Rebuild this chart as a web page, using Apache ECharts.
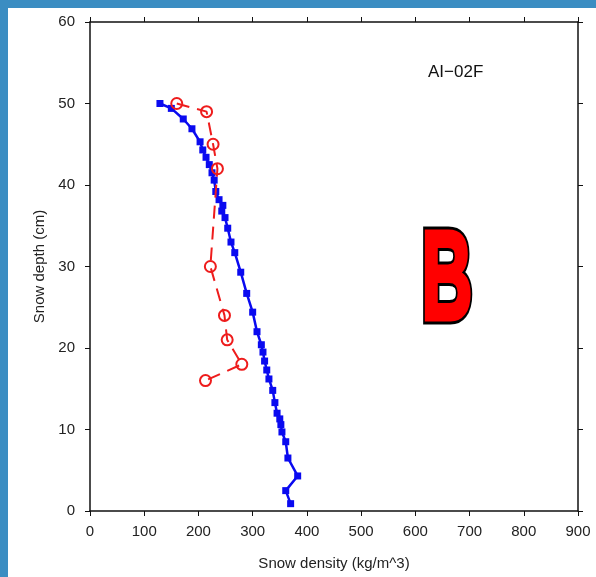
<!DOCTYPE html>
<html>
<head>
<meta charset="utf-8">
<script src="https://cdn.jsdelivr.net/npm/echarts@6/dist/echarts.min.js"></script>
<style>
html,body{margin:0;padding:0;background:#fff;}
#chart{width:596px;height:577px;}
</style>
</head>
<body>
<div id="chart"></div>
<script>
// Blue profile: snow density (kg/m^3) and depth (cm)
var blueDensity = [129,150,172,188,203,208,214,220,225,229,232,238,245,243,249,254,260,267,278,289,300,308,316,319,322,326,330,337,341,345,350,352,354,361,365,383,361,370];
var blueDepth   = [50.0,49.4,48.1,46.9,45.3,44.3,43.4,42.5,41.5,40.6,39.2,38.2,37.5,36.8,36.0,34.7,33.0,31.7,29.3,26.7,24.4,22.0,20.4,19.5,18.4,17.3,16.2,14.8,13.3,12.0,11.3,10.6,9.7,8.5,6.5,4.3,2.5,0.9];
// Red profile
var redDensity = [160,215,227,235,222,248,253,280,213];
var redDepth   = [50,49,45,42,30,24,21,18,16];
var xTicks = [0,100,200,300,400,500,600,700,800,900];
var yTicks = [0,10,20,30,40,50,60];
var siteLabel = 'AI\u221202F';
var panelLetter = 'B';

function pairs(xs, ys){ return xs.map(function(v,i){ return [v, ys[i]]; }); }

var chart = echarts.init(document.getElementById('chart'), null, {renderer:'canvas'});
var FF = 'Liberation Sans, Arial, sans-serif';
var axisFont = {fontFamily:FF, fontSize:15, color:'#222'};
var lineStyle = {color:'#111', width:1.5};
var tickStyle = {show:true, length:5, lineStyle:{color:'#111', width:1}};

chart.setOption({
  animation:false,
  backgroundColor:'#ffffff',
  grid:{left:90, right:18, top:22, bottom:66},
  xAxis:[
    {type:'value', min:xTicks[0], max:xTicks[xTicks.length-1], interval:100, position:'bottom',
     axisLine:{show:true, onZero:false, lineStyle:lineStyle}, axisTick:tickStyle,
     axisLabel:Object.assign({margin:13}, axisFont), splitLine:{show:false},
     name:'Snow density (kg/m^3)', nameLocation:'middle', nameGap:45,
     nameTextStyle:{fontFamily:FF, fontSize:15, color:'#222'}},
    {type:'value', min:xTicks[0], max:xTicks[xTicks.length-1], interval:100, position:'top',
     axisLine:{show:true, onZero:false, lineStyle:lineStyle}, axisTick:tickStyle,
     axisLabel:{show:false}, splitLine:{show:false}}
  ],
  yAxis:[
    {type:'value', min:yTicks[0], max:yTicks[yTicks.length-1], interval:10, position:'left',
     axisLine:{show:true, onZero:false, lineStyle:lineStyle}, axisTick:tickStyle,
     axisLabel:Object.assign({margin:15}, axisFont), splitLine:{show:false},
     name:'Snow depth (cm)', nameLocation:'middle', nameGap:37, nameRotate:90,
     nameTextStyle:{fontFamily:FF, fontSize:15, color:'#222'}},
    {type:'value', min:yTicks[0], max:yTicks[yTicks.length-1], interval:10, position:'right',
     axisLine:{show:true, onZero:false, lineStyle:lineStyle}, axisTick:tickStyle,
     axisLabel:{show:false}, splitLine:{show:false}}
  ],
  series:[
    {type:'line', xAxisIndex:0, yAxisIndex:0, data:pairs(blueDensity, blueDepth),
     symbol:'rect', symbolSize:7, showSymbol:true,
     lineStyle:{color:'#0a0af0', width:2.5}, itemStyle:{color:'#0a0af0'}, z:2},
    {type:'line', xAxisIndex:0, yAxisIndex:0, data:pairs(redDensity, redDepth),
     symbol:'circle', symbolSize:11, showSymbol:true,
     lineStyle:{color:'#ee1c1c', width:2, type:[13,8]},
     itemStyle:{color:'rgba(255,255,255,0)', borderColor:'#ee1c1c', borderWidth:2}, z:3}
  ],
  graphic:[
    {type:'rect', left:0, top:0, shape:{width:8, height:577}, style:{fill:'#3b8dc2'}, silent:true},
    {type:'rect', left:0, top:0, shape:{width:596, height:8}, style:{fill:'#3b8dc2'}, silent:true},
    {type:'text', left:428, top:64, style:{text:siteLabel, font:'17px ' + FF, fill:'#111'}},
    {type:'text', x:447, y:284, scaleX:0.56, scaleY:1, z:10,
     style:{text:panelLetter, font:'bold 126px ' + FF, fill:'#000',
            stroke:'#000', lineWidth:11, lineJoin:'round', align:'center', verticalAlign:'middle'}},
    {type:'text', x:447, y:284, scaleX:0.56, scaleY:1, z:11,
     style:{text:panelLetter, font:'bold 126px ' + FF, fill:'#ff0000',
            stroke:'#ff0000', lineWidth:5, lineJoin:'round', align:'center', verticalAlign:'middle'}}
  ]
});
</script>
</body>
</html>
